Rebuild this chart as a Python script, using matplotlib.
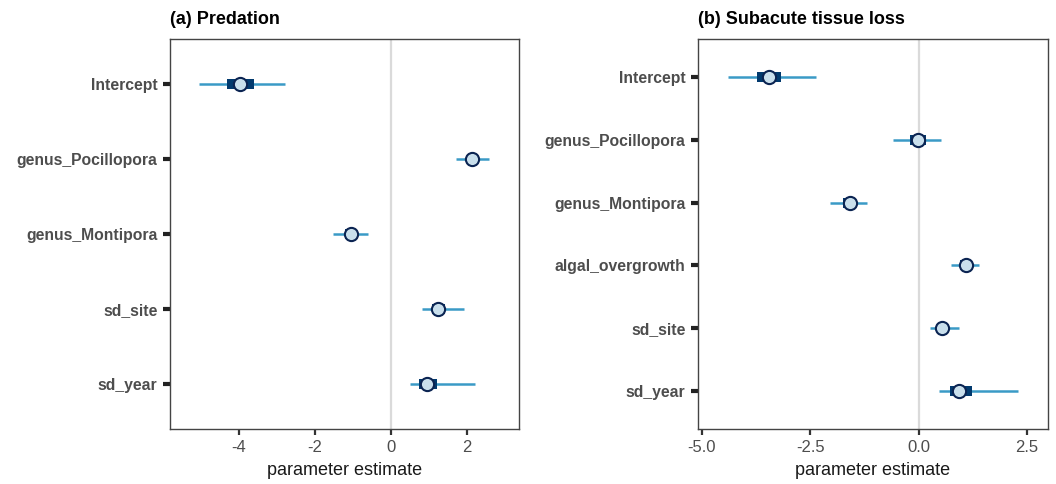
import matplotlib
matplotlib.use("Agg")
import matplotlib.pyplot as plt
import numpy as np

plt.rcParams['font.family'] = ['Liberation Sans', 'DejaVu Sans']
plt.rcParams['axes.unicode_minus'] = False

# ---- data ----
pred_params = ["Intercept", "genus_Pocillopora", "genus_Montipora", "sd_site", "sd_year"]
pred_ll = [-5.05, 1.73, -1.53, 0.83, 0.51]
pred_l  = [-4.31, 2.02, -1.20, 1.08, 0.75]
pred_m  = [-3.98, 2.15, -1.06, 1.24, 0.95]
pred_h  = [-3.61, 2.30, -0.92, 1.43, 1.23]
pred_hh = [-2.80, 2.60, -0.59, 1.93, 2.22]
pred_ticks = [-4, -2, 0, 2]
pred_ticklabels = ["-4", "-2", "0", "2"]

sub_params = ["Intercept", "genus_Pocillopora", "genus_Montipora", "algal_overgrowth", "sd_site", "sd_year"]
sub_ll = [-4.39, -0.59, -2.04, 0.75, 0.27, 0.47]
sub_l  = [-3.74, -0.21, -1.75, 0.95, 0.42, 0.72]
sub_m  = [-3.46, -0.02, -1.59, 1.08, 0.53, 0.92]
sub_h  = [-3.17, 0.16, -1.45, 1.22, 0.65, 1.22]
sub_hh = [-2.37, 0.52, -1.20, 1.39, 0.92, 2.29]
sub_ticks = [-5.0, -2.5, 0.0, 2.5]
sub_ticklabels = ["-5.0", "-2.5", "0.0", "2.5"]

# ---- style ----
c_outer = "#3a9ac6"
c_inner = "#023a6e"
c_fill = "#c9dfec"
c_edge = "#0b2452"
c_text = "#4d4d4d"

fig = plt.figure(figsize=(10.56, 4.84), dpi=100)
W, H = 1056, 484


def panel(px0, px1, params, ll, l, m, h, hh, ticks, ticklabels, xlim, title):
    top, bot = 39, 429
    ax = fig.add_axes([px0 / W, 1 - bot / H, (px1 - px0) / W, (bot - top) / H])
    n = len(params)
    y = np.arange(n)[::-1] + 1  # first param at top
    ax.axvline(0, color="#dadada", lw=1.6, zorder=1)
    ax.hlines(y, ll, hh, color=c_outer, lw=1.8, zorder=2)
    ax.hlines(y, l, h, color=c_inner, lw=7.2, zorder=3, capstyle='butt')
    ax.plot(m, y, 'o', ms=9.5, mfc=c_fill, mec=c_edge, mew=1.5, zorder=4, ls='none')
    ax.set_ylim(0.4, n + 0.6)
    ax.set_xlim(*xlim)
    ax.set_yticks(y)
    ax.set_yticklabels(params, fontsize=11.3, fontweight='bold', color=c_text)
    ax.set_xticks(ticks)
    ax.set_xticklabels(ticklabels, fontsize=12, color=c_text)
    ax.tick_params(axis='y', length=5, width=3, color="#222222", pad=4)
    ax.tick_params(axis='x', length=4, width=1.6, color="#333333", pad=4)
    for s in ax.spines.values():
        s.set_color("#444444")
        s.set_linewidth(1.0)
    ax.set_xlabel("parameter estimate", fontsize=13, color="#1a1a1a", labelpad=5)
    ax.set_title(title, loc='left', fontsize=13, fontweight='bold', pad=11)
    return ax


panel(170, 519, pred_params, pred_ll, pred_l, pred_m, pred_h, pred_hh,
      pred_ticks, pred_ticklabels, (-5.82, 3.38), "(a) Predation")
panel(698, 1048, sub_params, sub_ll, sub_l, sub_m, sub_h, sub_hh,
      sub_ticks, sub_ticklabels, (-5.09, 2.98), "(b) Subacute tissue loss")

fig.savefig("out.png", dpi=100)
